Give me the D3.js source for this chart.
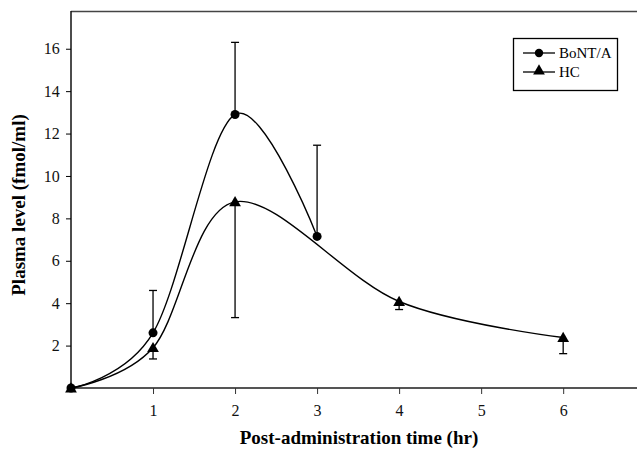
<!DOCTYPE html>
<html>
<head>
<meta charset="utf-8">
<script src="https://cdn.jsdelivr.net/npm/d3@7"></script>
<style>
  body { margin: 0; background: #fff; }
  svg text { font-family: "Liberation Serif", "DejaVu Serif", serif; }
</style>
</head>
<body>
<div id="chart"></div>
<script>
// values
var bontTime = [0, 1, 2, 3];
var bontLevel = [0, 2.6, 12.9, 7.15];
var bontUpper = [null, 4.6, 16.3, 11.45];
var hcTime = [0, 1, 2, 4, 6];
var hcLevel = [0, 1.9, 8.78, 4.08, 2.38];
var hcLower = [null, 1.37, 3.32, 3.7, 1.62];
var yTicks = [2, 4, 6, 8, 10, 12, 14, 16];
var xTicks = [1, 2, 3, 4, 5, 6];

var width = 638, height = 450;
var mLeft = 71, mRight = 637, mTop = 11, mBottom = 388;

var svg = d3.select("#chart").append("svg").attr("width", width).attr("height", height);

var x = d3.scaleLinear().domain([0, 6.9]).range([mLeft, mRight]);
var y = d3.scaleLinear().domain([0, 17.78]).range([mBottom, mTop]);

// top frame line
svg.append("line").attr("x1", mLeft).attr("x2", mRight).attr("y1", mTop + 0.5).attr("y2", mTop + 0.5)
    .attr("stroke", "#444").attr("stroke-width", 1.5);

// axes
var xAxis = svg.append("g").attr("transform", "translate(0," + mBottom + ")")
    .call(d3.axisBottom(x).tickValues(xTicks).tickSize(6).tickFormat(d3.format("d")));
xAxis.select(".domain").attr("stroke", "#555").attr("stroke-width", 2).attr("d", "M" + mLeft + ",0H" + mRight);
xAxis.selectAll(".tick line").attr("stroke", "#333");
xAxis.selectAll("text").attr("font-size", 16).attr("fill", "#111").attr("dy", "1.2em");

var yAxis = svg.append("g").attr("transform", "translate(" + mLeft + ",0)")
    .call(d3.axisLeft(y).tickValues(yTicks).tickSize(5));
yAxis.select(".domain").attr("stroke", "#111").attr("stroke-width", 1.5).attr("d", "M0," + mTop + "V" + mBottom);
yAxis.selectAll("text").attr("font-size", 16).attr("fill", "#111").attr("dx", "-0.2em");

// axis titles
svg.append("text").attr("x", 359).attr("y", 444).attr("text-anchor", "middle")
    .attr("font-size", 19).attr("font-weight", "bold").text("Post-administration time (hr)");
svg.append("text").attr("transform", "translate(25,205) rotate(-90)").attr("text-anchor", "middle")
    .attr("font-size", 19).attr("font-weight", "bold").text("Plasma level (fmol/ml)");

var line = d3.line().curve(d3.curveCatmullRom.alpha(0))
    .x(function(d) { return x(d[0]); }).y(function(d) { return y(d[1]); });

var bont = bontTime.map(function(t, i) { return [t, bontLevel[i], bontUpper[i]]; });
var hc = hcTime.map(function(t, i) { return [t, hcLevel[i], hcLower[i]]; });

// error bars
function errBar(data) {
  var g = svg.append("g").attr("stroke", "#000").attr("stroke-width", 1.3);
  data.filter(function(d) { return d[2] != null; }).forEach(function(d) {
    g.append("line").attr("x1", x(d[0])).attr("x2", x(d[0])).attr("y1", y(d[1])).attr("y2", y(d[2]));
    g.append("line").attr("x1", x(d[0]) - 4).attr("x2", x(d[0]) + 4).attr("y1", y(d[2])).attr("y2", y(d[2]));
  });
}
errBar(bont);
errBar(hc);

svg.append("path").datum(bont).attr("d", line).attr("fill", "none").attr("stroke", "#000").attr("stroke-width", 1.4);
svg.append("path").datum(hc).attr("d", line).attr("fill", "none").attr("stroke", "#000").attr("stroke-width", 1.4);

var tri = d3.symbol().type(d3.symbolTriangle).size(60);
svg.selectAll(".hcpt").data(hc).enter().append("path")
    .attr("transform", function(d) { return "translate(" + x(d[0]) + "," + (y(d[1]) + 1) + ")"; })
    .attr("d", tri).attr("fill", "#000");
svg.selectAll(".bpt").data(bont).enter().append("circle")
    .attr("cx", function(d) { return x(d[0]); }).attr("cy", function(d) { return y(d[1]); })
    .attr("r", 4.5).attr("fill", "#000");

// legend
var lg = svg.append("g");
lg.append("rect").attr("x", 513.5).attr("y", 38.5).attr("width", 104).attr("height", 52)
    .attr("fill", "#fff").attr("stroke", "#000").attr("stroke-width", 1.3);
var names = ["BoNT/A", "HC"];
names.forEach(function(n, i) {
  var yy = 53 + i * 19;
  lg.append("line").attr("x1", 523).attr("x2", 555).attr("y1", yy).attr("y2", yy).attr("stroke", "#000").attr("stroke-width", 1.3);
  if (i == 0) lg.append("circle").attr("cx", 539).attr("cy", yy).attr("r", 4.2).attr("fill", "#000");
  else lg.append("path").attr("transform", "translate(539," + (yy - 1) + ")").attr("d", tri).attr("fill", "#000");
  lg.append("text").attr("x", 559).attr("y", yy + 5).attr("font-size", 15).text(n);
});
</script>
</body>
</html>
